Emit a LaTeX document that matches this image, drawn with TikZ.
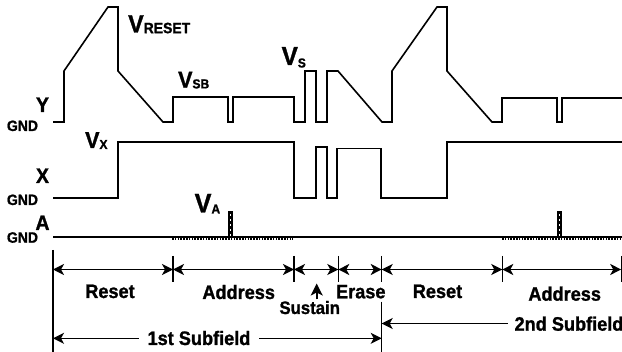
\documentclass[tikz,border=0pt]{standalone}
\usepackage{fontspec}
\setmainfont{Liberation Sans}[FakeStretch=0.93, BoldFeatures={FakeBold=1.2}]
\usetikzlibrary{arrows.meta}
\newcommand{\fs}[1]{\fontsize{#1}{#1}\selectfont\bfseries}
\tikzset{
  wave/.style={line width=1.6pt, line join=miter},
  dim/.style={line width=1.5pt, {Stealth[length=11pt,width=11pt,inset=3pt]}-{Stealth[length=11pt,width=11pt,inset=3pt]}},
  tick/.style={line width=1.3pt},
  lab/.style={anchor=base, inner sep=0pt, font=\fs{19.5}},
  sig/.style={anchor=base, inner sep=0pt, font=\fs{21}},
  gnd/.style={anchor=base, inner sep=0pt, font=\fs{15}},
  vl/.style={anchor=base west, inner sep=0pt},
  dots/.style={line width=2.6pt, dash pattern=on 1.6pt off 1.2pt}
}
\begin{document}
\begin{tikzpicture}[x=1pt,y=-1pt]
\useasboundingbox (0,0) rectangle (622,352);
% ---- left labels
\node[sig] (ly) at (42.5,112) {Y};
\node[gnd] (gy) at (22.5,131) {GND};
\node[sig] (lx) at (42.5,183) {X};
\node[gnd] (gx) at (22.5,205) {GND};
\node[sig] (la) at (42.5,230) {A};
\node[gnd] (ga) at (22.5,242.7) {GND};
% ---- voltage labels
\node[vl] (vreset) at (128,32.5) {\fs{25}V\fs{15}\raisebox{-0.7pt}{RESET}};
\node[vl] (vsb) at (178,87.7) {\fs{23}V\fs{13}\raisebox{-0.7pt}{SB}};
\node[vl] (vs) at (281.5,65) {\fs{26}V\fs{13}\raisebox{-2.5pt}{S}};
\node[vl] (vx) at (85,148) {\fs{23}V\fs{13}\raisebox{-1pt}{X}};
\node[vl] (va) at (194.5,212.5) {\fs{27}V\fs{13}\raisebox{-1pt}{A}};
% ---- Y waveform
\draw[wave] (53,122) -- (64,122) -- (64,71) -- (108,7) -- (118,7) -- (118,71)
  -- (163,122) -- (173,122) -- (173,97) -- (228,97) -- (228,122) -- (233,122)
  -- (233,97) -- (294,97) -- (294,122) -- (305,122) -- (305,71) -- (316,71)
  -- (316,122) -- (327,122) -- (327,71) -- (338,71) -- (382,122) -- (392,122)
  -- (392,71) -- (437,7) -- (447,7) -- (447,71) -- (492,122) -- (502,122)
  -- (502,98) -- (557,98) -- (557,122) -- (562,122) -- (562,98) -- (623,98);
% ---- X waveform
\draw[wave] (53,198) -- (118,198) -- (118,142) -- (294,142) -- (294,198)
  -- (316,198) -- (316,147) -- (327,147) -- (327,198) -- (337,198)
  -- (337,148.5) -- (381,148.5) -- (381,198) -- (447,198) -- (447,142) -- (623,142);
% ---- A waveform
\draw[wave] (53,237) -- (623,237);
\draw[dots] (172,238.6) -- (293,238.6);
\draw[dots] (502,238.6) -- (623,238.6);
\foreach \px in {228.3,557.2}{
  \fill (\px,211) rectangle ++(4.8,27);
  \draw[white, line width=1.4pt, dash pattern=on 2.5pt off 2.5pt] (\px+2.4,214) -- (\px+2.4,236);
}
% ---- timing marks
\coordinate (t0) at (53,269.5);
\coordinate (t1) at (173,269.5);
\coordinate (t2) at (294,269.5);
\coordinate (t3) at (338.3,269.5);
\coordinate (t4) at (381.7,269.5);
\coordinate (t5) at (502.3,269.5);
\coordinate (t6) at (621.2,269.5);
\draw[tick] (53,250) -- (53,352);
\draw[tick] (381.7,301.7) -- (381.7,352);
\foreach \c in {t1,t2,t3,t4,t5,t6}{
  \draw[tick] (\c) ++(0,-13.5) -- ++(0,26);
}
\draw[dim] (t0) -- (t1);
\draw[dim] (t1) -- (t2);
\draw[dim] (t2) -- (t3);
\draw[dim] (t3) -- (t4);
\draw[dim] (t4) -- (t5);
\draw[dim] (t5) -- (t6);
% ---- phase labels
\node[lab] (reset1) at (110,298) {Reset};
\node[lab] (addr1) at (238.7,299) {Address};
\node[lab, font=\fs{18}] (sustain) at (309.7,314) {Sustain};
\node[lab] (erase) at (360.8,298.3) {Erase};
\node[lab] (reset2) at (437.5,298) {Reset};
\node[lab] (addr2) at (564.7,300.7) {Address};
\coordinate (sa) at (316.7,299.5);
\coordinate (sb) at (316.7,283.5);
\draw[line width=1.6pt, -{Stealth[length=12pt,width=12pt,inset=3pt]}] (sa) -- (sb);
% ---- subfields
\coordinate (f1a) at (53,338.3);
\coordinate (f1b) at (381.7,338.3);
\draw[dim] (f1a) -- (f1b);
\node[lab, fill=white, inner xsep=9pt, inner ysep=1pt] (sub1) at (199,345) {1st Subfield};
\coordinate (f2a) at (381.7,323.5);
\node[lab, inner xsep=6pt] (sub2) at (569,330.7) {2nd Subfield};
\draw[line width=1.5pt, {Stealth[length=11pt,width=11pt,inset=3pt]}-] (f2a) -- (sub2.west |- f2a);
\end{tikzpicture}
\end{document}
